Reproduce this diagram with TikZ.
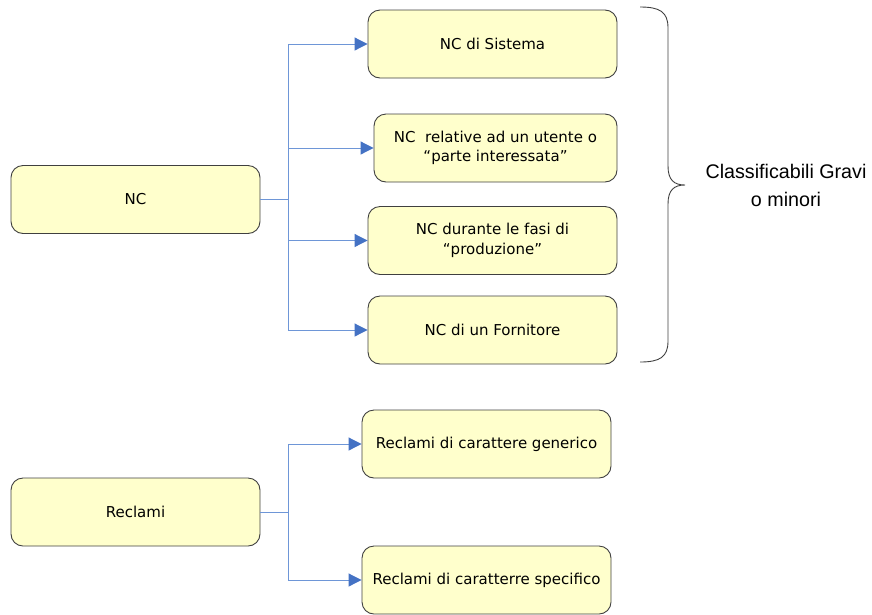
\documentclass[tikz,border=0pt]{standalone}
\usepackage{fontspec}
\setmainfont{DejaVu Sans}
\newfontfamily\arialfont{Liberation Sans}
\usetikzlibrary{arrows.meta}
\definecolor{bordo}{RGB}{64,64,64}
\definecolor{giallino}{RGB}{255,255,204}
\definecolor{blu}{RGB}{68,114,196}
\definecolor{blulinea}{RGB}{110,150,215}
\begin{document}
\begin{tikzpicture}[x=1pt,y=-1pt,font=\fontsize{15}{19.5}\selectfont,
  riquadro/.style={draw=bordo, line width=0.9pt, fill=giallino, rounded corners=12pt,
    minimum width=249pt, minimum height=68pt, align=center, inner sep=0pt},
  linea/.style={draw=blulinea, line width=1pt},
  freccia/.style={linea, -{Triangle[length=13pt,width=13pt,color=blu]}}]
\useasboundingbox (0,0) rectangle (872,614);

%non conformita'
\begin{scope}
\node[riquadro] (nc) at (135.5,199.5) {NC};
\node[riquadro] (sis) at (492.5,44) {NC di Sistema};
\node[riquadro, minimum width=243pt] (ute) at (495.5,148) {NC~ relative ad un utente o\\“parte interessata”};
\node[riquadro] (pro) at (492.5,240.5) {NC durante le fasi di\\“produzione”};
\node[riquadro] (for) at (492.5,330) {NC di un Fornitore};

\coordinate (ramo) at (288,199.5);
\draw[linea] (nc) -- (ramo);
\draw[freccia] (ramo) |- (sis);
\draw[freccia] (ramo) |- (ute);
\draw[freccia] (ramo) |- (pro);
\draw[freccia] (ramo) |- (for);

%graffa
\draw[bordo, line width=0.9pt] (640,7) .. controls (660,7) and (668,12) .. (668,28)
  -- (668,166) .. controls (668,180) and (674,185) .. (685,185)
  .. controls (674,185) and (668,190) .. (668,204)
  -- (668,341) .. controls (668,357) and (660,362) .. (640,362);
\node[font=\arialfont\fontsize{19.7}{28}\selectfont, align=center] (gravi) at (786,185)
  {Classificabili Gravi\\o minori};
\end{scope}

%reclami
\begin{scope}
\node[riquadro] (rec) at (135.5,512) {Reclami};
\node[riquadro] (gen) at (486.5,444) {Reclami di carattere generico};
\node[riquadro] (spe) at (486.5,580) {Reclami di caratterre specifico};

\coordinate (ramor) at (288,512);
\draw[linea] (rec) -- (ramor);
\draw[freccia] (ramor) |- (gen);
\draw[freccia] (ramor) |- (spe);
\end{scope}

\end{tikzpicture}
\end{document}
